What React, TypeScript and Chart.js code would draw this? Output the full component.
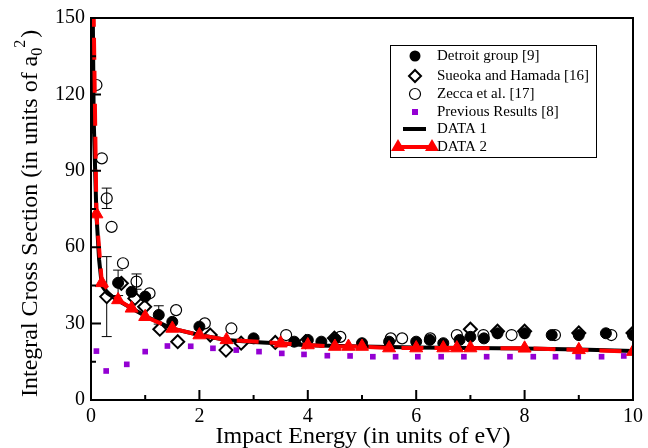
import React, { useEffect, useRef } from 'react';
import { Chart, registerables } from 'chart.js';
Chart.register(...registerables);

// ---------- data ----------
const xTickValues = [0, 2, 4, 6, 8, 10];
const yTickValues = [0, 30, 60, 90, 120, 150];

const detroitE = [0.5, 0.75, 1.0, 1.25, 1.5, 2.0, 3.0, 3.75, 4.0, 4.25, 4.5, 5.0, 5.5, 6.0, 6.25, 6.5, 6.8, 7.0, 7.25, 7.5, 8.0, 8.5, 9.0, 9.5, 10.0];
const detroitS = [46, 42.5, 40.6, 33.4, 30.7, 28.8, 24.2, 22.9, 23.6, 22.9, 24, 22.3, 22.9, 22.9, 23.6, 22.3, 23.6, 24.8, 24.2, 26.2, 26.2, 25.5, 25.5, 26.2, 25.5];
const detroitErr = [5, 0, 0, 3.6, 0, 0, 0, 0, 0, 0, 0, 0, 0, 0, 0, 0, 0, 0, 0, 0, 0, 0, 0, 0, 0];

const sueokaE = [0.29, 0.56, 0.81, 0.99, 1.27, 1.6, 2.2, 2.49, 2.77, 3.4, 3.96, 4.49, 7.0, 7.5, 8.0, 9.0, 10.0];
const sueokaS = [40.6, 45.8, 39.9, 36.6, 27.8, 22.9, 25.5, 19.6, 22.3, 22.6, 22.9, 24.3, 27.8, 27, 27, 26.3, 26.3];
const sueokaErr = [15.7, 0, 0, 0, 0, 0, 0, 0, 0, 0, 0, 0, 0, 0, 0, 0, 0];

const zeccaE = [0.1, 0.2, 0.29, 0.38, 0.59, 0.84, 1.08, 1.57, 2.1, 2.59, 3.6, 4.6, 5.53, 5.74, 6.26, 6.75, 7.24, 7.76, 8.56, 9.6];
const zeccaS = [123.7, 94.9, 79.2, 68, 53.7, 46.5, 41.9, 35.3, 30.1, 28.1, 25.5, 24.8, 24.2, 24.2, 24.2, 25.5, 25.5, 25.5, 25.5, 25.5];
const zeccaErr = [0, 0, 4, 0, 0, 3, 0, 0, 0, 0, 0, 0, 0, 0, 0, 0, 0, 0, 0, 0];

const prevE = [0.1, 0.28, 0.66, 1.0, 1.41, 1.84, 2.25, 2.68, 3.1, 3.52, 3.93, 4.36, 4.78, 5.2, 5.62, 6.03, 6.46, 6.88, 7.3, 7.73, 8.16, 8.57, 8.99, 9.42, 9.83];
const prevS = [19.2, 11.4, 14, 19, 21.2, 21.1, 20.3, 19.6, 19, 18.3, 17.9, 17.4, 17.3, 17, 17, 17, 17, 17, 17, 17, 17, 17, 17, 17, 17.3];

const data1E = [0.005, 0.05, 0.1, 0.15, 0.2, 0.3, 0.5, 0.75, 1, 1.5, 2, 2.5, 3, 3.5, 4, 5, 6, 7, 8, 9, 10];
const data1S = [220, 110, 73, 55, 45, 42, 39, 36, 33, 28, 25.5, 23.6, 22.8, 22.2, 21.5, 21, 20.6, 20.4, 20.2, 19.8, 19.2];

const data2E = [0.005, 0.1, 0.2, 0.5, 0.75, 1.0, 1.5, 2.0, 2.5, 3.5, 4.0, 4.5, 4.75, 5.0, 5.5, 6.0, 6.5, 6.75, 7.0, 8.0, 9.0, 10.0];
const data2S = [220, 73, 46, 39.3, 36, 32.7, 28.1, 25.5, 23.6, 22.3, 21.6, 21, 21, 21, 20.4, 20.4, 20.4, 20.4, 20.4, 20.3, 19.7, 19];

const pts = (xs: number[], ys: number[]) => xs.map((x, i) => ({ x, y: ys[i] }));

const SERIF = '"Liberation Serif", "DejaVu Serif", serif';
const PURPLE = '#9400d3';
const RED = '#ff0000';

const errorBarPlugin = {
  id: 'errorBars',
  beforeDatasetsDraw(chart: any) {
    const { ctx, scales } = chart;
    const sets: [number[], number[], number[]][] = [
      [detroitE, detroitS, detroitErr],
      [sueokaE, sueokaS, sueokaErr],
      [zeccaE, zeccaS, zeccaErr],
    ];
    ctx.save();
    ctx.strokeStyle = '#000';
    ctx.lineWidth = 1;
    sets.forEach(([xs, ys, es]) => {
      xs.forEach((x, i) => {
        const e = es[i];
        if (!e) return;
        const px = scales.x.getPixelForValue(x);
        const top = scales.y.getPixelForValue(ys[i] + e);
        const bot = scales.y.getPixelForValue(ys[i] - e);
        ctx.beginPath();
        ctx.moveTo(px, top); ctx.lineTo(px, bot);
        ctx.moveTo(px - 5, top); ctx.lineTo(px + 5, top);
        ctx.moveTo(px - 5, bot); ctx.lineTo(px + 5, bot);
        ctx.stroke();
      });
    });
    ctx.restore();
  },
};

const framePlugin = {
  id: 'frame',
  afterDraw(chart: any) {
    const { ctx, chartArea: a, scales } = chart;
    ctx.save();
    ctx.strokeStyle = '#000';
    ctx.lineWidth = 2;
    ctx.strokeRect(a.left, a.top, a.right - a.left, a.bottom - a.top);
    ctx.beginPath();
    for (let v = 0; v <= 10; v += 1) {
      const px = scales.x.getPixelForValue(v);
      const len = v % 2 === 0 ? 10 : 5;
      ctx.moveTo(px, a.bottom); ctx.lineTo(px, a.bottom - len);
    }
    for (let v = 0; v <= 150; v += 15) {
      const py = scales.y.getPixelForValue(v);
      const len = v % 30 === 0 ? 10 : 5;
      ctx.moveTo(a.left, py); ctx.lineTo(a.left + len, py);
    }
    ctx.stroke();

    // axis titles
    ctx.fillStyle = '#000';
    ctx.font = `24px ${SERIF}`;
    ctx.textAlign = 'center';
    ctx.textBaseline = 'alphabetic';
    ctx.fillText('Impact Energy (in units of eV)', 363, 443);

    ctx.save();
    ctx.translate(37, 397);
    ctx.rotate(-Math.PI / 2);
    ctx.textAlign = 'left';
    ctx.font = `24px ${SERIF}`;
    const main = 'Integral Cross Section (in units of a';
    ctx.fillText(main, 0, 0);
    let x = ctx.measureText(main).width;
    ctx.font = `16px ${SERIF}`;
    ctx.fillText('0', x, 5);
    x += ctx.measureText('0').width;
    ctx.fillText('2', x, -12);
    x += ctx.measureText('2').width + 2;
    ctx.font = `24px ${SERIF}`;
    ctx.fillText(')', x, 0);
    ctx.restore();

    // legend
    const L = 390, T = 45, R = 596, B = 157;
    ctx.fillStyle = '#fff';
    ctx.fillRect(L, T, R - L, B - T);
    ctx.strokeStyle = '#000';
    ctx.lineWidth = 1;
    ctx.strokeRect(L + 0.5, T + 0.5, R - L, B - T);
    const rows = [56, 76, 94, 112, 129, 147];
    const labels = ['Detroit group [9]', 'Sueoka and Hamada [16]', 'Zecca et al. [17]', 'Previous Results [8]', 'DATA 1', 'DATA 2'];
    const sx = 415;
    ctx.fillStyle = '#000';
    ctx.beginPath(); ctx.arc(sx, rows[0], 5.5, 0, Math.PI * 2); ctx.fill();
    ctx.lineWidth = 2;
    ctx.beginPath();
    ctx.moveTo(sx, rows[1] - 6); ctx.lineTo(sx + 6, rows[1]); ctx.lineTo(sx, rows[1] + 6); ctx.lineTo(sx - 6, rows[1]); ctx.closePath();
    ctx.stroke();
    ctx.lineWidth = 1.2;
    ctx.beginPath(); ctx.arc(sx, rows[2], 5.5, 0, Math.PI * 2); ctx.stroke();
    ctx.fillStyle = PURPLE;
    ctx.fillRect(sx - 3, rows[3] - 3, 6, 6);
    ctx.strokeStyle = '#000';
    ctx.lineWidth = 4;
    ctx.beginPath(); ctx.moveTo(403, rows[4]); ctx.lineTo(426, rows[4]); ctx.stroke();
    ctx.strokeStyle = RED;
    ctx.beginPath(); ctx.moveTo(398, rows[5]); ctx.lineTo(432, rows[5]); ctx.stroke();
    ctx.fillStyle = RED;
    [398, 432].forEach((tx) => {
      ctx.beginPath();
      ctx.moveTo(tx, rows[5] - 8); ctx.lineTo(tx + 7, rows[5] + 4); ctx.lineTo(tx - 7, rows[5] + 4); ctx.closePath();
      ctx.fill();
    });
    ctx.fillStyle = '#000';
    ctx.font = `15px ${SERIF}`;
    ctx.textAlign = 'left';
    ctx.textBaseline = 'middle';
    labels.forEach((t, i) => ctx.fillText(t, 437, rows[i]));
    ctx.restore();
  },
};

export default function App() {
  const ref = useRef<HTMLCanvasElement | null>(null);
  useEffect(() => {
    if (!ref.current) return;
    const tickFont = { family: SERIF, size: 20 };
    const chart = new Chart(ref.current, {
      type: 'scatter',
      data: {
        datasets: [
          {
            label: 'DATA 2', data: pts(data2E, data2S), showLine: true,
            borderColor: RED, borderWidth: 4, borderDash: [22, 11],
            pointStyle: 'triangle', pointRadius: 7.5, pointBackgroundColor: RED, pointBorderColor: RED, pointBorderWidth: 1,
            order: 0,
          } as any,
          {
            label: 'DATA 1', data: pts(data1E, data1S), showLine: true,
            borderColor: '#000', borderWidth: 4, pointRadius: 0, order: 1,
          },
          {
            label: 'Previous Results [8]', data: pts(prevE, prevS), pointStyle: 'rect', pointRadius: 4,
            backgroundColor: PURPLE, borderColor: PURPLE, borderWidth: 0, order: 2,
          },
          {
            label: 'Detroit group [9]', data: pts(detroitE, detroitS), pointStyle: 'circle', pointRadius: 5.5,
            backgroundColor: '#000', borderColor: '#000', borderWidth: 1, order: 3,
          },
          {
            label: 'Sueoka and Hamada [16]', data: pts(sueokaE, sueokaS), pointStyle: 'rectRot', pointRadius: 6.5,
            backgroundColor: '#fff', borderColor: '#000', borderWidth: 2, order: 4,
          },
          {
            label: 'Zecca et al. [17]', data: pts(zeccaE, zeccaS), pointStyle: 'circle', pointRadius: 5.5,
            backgroundColor: 'rgba(0,0,0,0)', borderColor: '#000', borderWidth: 1.2, order: 5,
          },
        ],
      },
      options: {
        animation: false,
        responsive: false,
        maintainAspectRatio: false,
        events: [],
        layout: { padding: { left: 0, right: 13, top: 18, bottom: 0 } },
        plugins: { legend: { display: false }, tooltip: { enabled: false } },
        scales: {
          x: {
            type: 'linear', min: 0, max: 10,
            grid: { display: false, drawTicks: false },
            border: { display: false },
            ticks: { font: tickFont, color: '#000', padding: 5, maxRotation: 0, autoSkip: false },
            afterBuildTicks: (s: any) => { s.ticks = xTickValues.map((v) => ({ value: v })); },
            afterFit: (s: any) => { s.height = 48; },
          },
          y: {
            type: 'linear', min: 0, max: 150,
            grid: { display: false, drawTicks: false },
            border: { display: false },
            ticks: { font: tickFont, color: '#000', padding: 6, autoSkip: false },
            afterBuildTicks: (s: any) => { s.ticks = yTickValues.map((v) => ({ value: v })); },
            afterFit: (s: any) => { s.width = 91; },
          },
        },
      },
      plugins: [errorBarPlugin, framePlugin],
    });
    return () => chart.destroy();
  }, []);
  return (
    <div style={{ position: 'absolute', left: 0, top: 0, width: 648, height: 448, background: '#fff' }}>
      <canvas ref={ref} width={648} height={448} style={{ display: 'block' }} />
    </div>
  );
}
